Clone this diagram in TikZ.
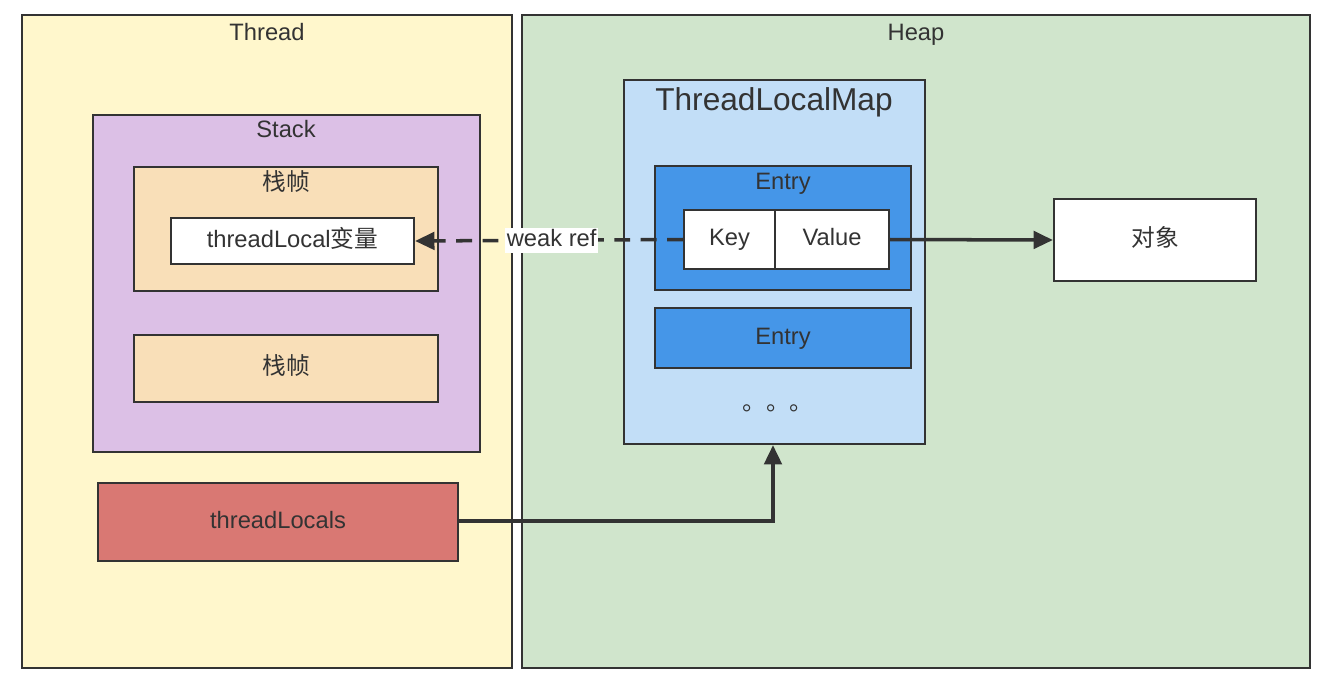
\documentclass[tikz,border=0pt]{standalone}
\usepackage{fontspec}
\setmainfont{Liberation Sans}
\newfontfamily\cjk{Noto Sans CJK SC}
\usetikzlibrary{arrows.meta}
\definecolor{threadbg}{HTML}{FFF7CC}
\definecolor{heapbg}{HTML}{D0E5CC}
\definecolor{stackbg}{HTML}{DCC0E6}
\definecolor{framebg}{HTML}{F9DFB8}
\definecolor{localsbg}{HTML}{D97873}
\definecolor{mapbg}{HTML}{C2DEF7}
\definecolor{entrybg}{HTML}{4596E8}
\definecolor{edge}{HTML}{333333}
\tikzset{
  box/.style={draw=edge, line width=1.3pt},
  txt/.style={font=\fontsize{13.5}{15}\selectfont, text=edge, text height=9.5pt, text depth=2.5pt},
  link/.style={draw=edge, line width=2pt, -{Triangle[length=11pt,width=10pt]}}
}
\begin{document}
\begin{tikzpicture}[x=0.02cm,y=-0.02cm]
    \useasboundingbox[fill=white] (0,0) rectangle (1330,684);

    % 两个大区域
    \filldraw[box, fill=threadbg] (22,15) rectangle (512,668);
    \node[txt] (thread) at (267,34) {Thread};
    \filldraw[box, fill=heapbg] (522,15) rectangle (1310,668);
    \node[txt] (heap) at (916,34) {Heap};

    % 栈
    \filldraw[box, fill=stackbg] (93,115) rectangle (480,452);
    \node[txt] (stack) at (286,131) {Stack};
    \filldraw[box, fill=framebg] (134,167) rectangle (438,291);
    \node[txt] (frameA) at (286,184) {\cjk 栈帧};
    \node[box, fill=white, txt, minimum width=243*0.02cm, minimum height=46*0.02cm, inner sep=0pt]
        (tlvar) at (292.5,241) {threadLocal{\cjk 变量}};
    \node[box, fill=framebg, txt, minimum width=304*0.02cm, minimum height=67*0.02cm, inner sep=0pt]
        (frameB) at (286,368.5) {\cjk 栈帧};
    \node[box, fill=localsbg, txt, minimum width=360*0.02cm, minimum height=78*0.02cm, inner sep=0pt]
        (locals) at (278,522) {threadLocals};

    % ThreadLocalMap
    \node[box, fill=mapbg, minimum width=301*0.02cm, minimum height=364*0.02cm, inner sep=0pt]
        (map) at (774.5,262) {};
    \node[txt, font=\fontsize{18}{20}\selectfont, text height=13pt] (maptitle) at (774,101) {ThreadLocalMap};
    \filldraw[box, fill=entrybg] (655,166) rectangle (911,290);
    \node[txt] (entryA) at (783,183) {Entry};
    \node[box, fill=white, txt, minimum width=91*0.02cm, minimum height=59*0.02cm, inner sep=0pt]
        (key) at (729.5,239.5) {Key};
    \node[box, fill=white, txt, minimum width=114*0.02cm, minimum height=59*0.02cm, inner sep=0pt]
        (value) at (832,239.5) {Value};
    \node[box, fill=entrybg, txt, minimum width=256*0.02cm, minimum height=60*0.02cm, inner sep=0pt]
        (entryB) at (783,338) {Entry};
    \node[txt] (dots) at (778,404) {\cjk 。。。};

    % 对象
    \node[box, fill=white, txt, minimum width=202*0.02cm, minimum height=82*0.02cm, inner sep=0pt]
        (obj) at (1155,240) {\cjk 对象};

    % 引用
    \draw[link, dash pattern=on 9pt off 6pt] (key.west) -- (tlvar.east)
        node[pos=0.49, fill=white, txt, inner sep=1pt] {weak ref};
    \draw[link] (value.east) -- (obj.west);
    \coordinate (bend) at (773,521);
    \draw[link] (locals.east |- bend) -- (bend) -- (map.south -| bend);
\end{tikzpicture}
\end{document}
